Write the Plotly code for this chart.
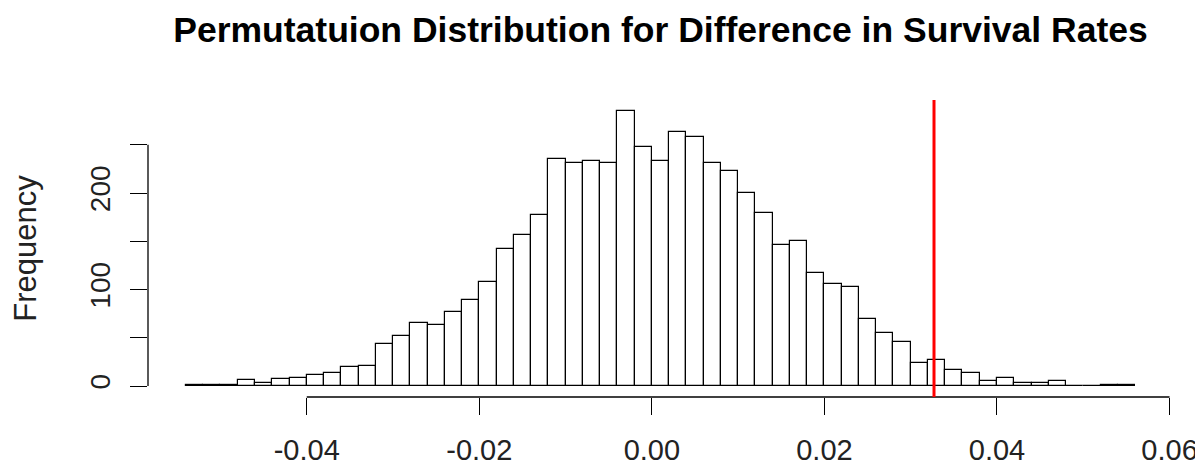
import plotly.graph_objects as go

# Histogram data (bin left edges, bin width 0.002) and counts
bin_left = [-0.054, -0.052, -0.050, -0.048, -0.046, -0.044, -0.042, -0.040, -0.038, -0.036,
            -0.034, -0.032, -0.030, -0.028, -0.026, -0.024, -0.022, -0.020, -0.018, -0.016,
            -0.014, -0.012, -0.010, -0.008, -0.006, -0.004, -0.002, 0.000, 0.002, 0.004,
            0.006, 0.008, 0.010, 0.012, 0.014, 0.016, 0.018, 0.020, 0.022, 0.024,
            0.026, 0.028, 0.030, 0.032, 0.034, 0.036, 0.038, 0.040, 0.042, 0.044,
            0.046, 0.048, 0.050, 0.052, 0.054]
counts = [1, 1, 1, 6, 3, 7, 8, 11, 13, 20,
          21, 44, 52, 65, 63, 77, 89, 108, 142, 156,
          177, 235, 231, 233, 231, 285, 248, 233, 263, 258,
          231, 223, 200, 179, 146, 150, 117, 106, 103, 69,
          55, 46, 24, 27, 17, 13, 5, 8, 3, 3,
          5, 0, 0, 1, 1]
bin_width = 0.002
observed_diff = 0.0327

x_tick_vals = [-0.04, -0.02, 0.00, 0.02, 0.04, 0.06]
x_tick_text = ["-0.04", "-0.02", "0.00", "0.02", "0.04", "0.06"]
y_tick_vals = [0, 50, 100, 150, 200, 250]
y_tick_text = ["0", "", "100", "", "200", ""]

title_text = "Permutatuion Distribution for Difference in Survival Rates"
y_title = "Frequency"

FONT = "Liberation Sans, Arial, sans-serif"

# The page body has an 8px default margin; size the figure so it fits the 1203x465 window.
W, H = 1195, 457

centers = [b + bin_width / 2 for b in bin_left]

fig = go.Figure()
fig.add_trace(go.Bar(
    x=centers, y=counts, width=[bin_width] * len(centers),
    marker=dict(color="white", line=dict(color="black", width=1.2)),
    hoverinfo="x+y", showlegend=False,
))

# R-style padded ranges (4% extension)
xmin, xmax = bin_left[0], bin_left[-1] + bin_width
xpad = (xmax - xmin) * 0.04
ymax = max(counts)
ypad = ymax * 0.04

shapes = [
    # y axis line (spans first to last tick)
    dict(type="line", xref="paper", yref="y", x0=0, x1=0,
         y0=y_tick_vals[0], y1=y_tick_vals[-1], line=dict(color="black", width=1.3)),
    # x axis line
    dict(type="line", xref="x", yref="paper", x0=x_tick_vals[0], x1=x_tick_vals[-1],
         y0=0, y1=0, line=dict(color="black", width=1.3)),
    # observed difference
    dict(type="line", xref="x", yref="paper", x0=observed_diff, x1=observed_diff,
         y0=0, y1=1, line=dict(color="#FF0000", width=3)),
]

fig.update_layout(
    width=W, height=H,
    margin=dict(l=140, r=30, t=92, b=68, autoexpand=False),
    paper_bgcolor="white", plot_bgcolor="white",
    font=dict(family=FONT, color="black"),
    bargap=0,
    shapes=shapes,
    title=dict(text="<b>" + title_text + "</b>", x=0.5, xref="paper", xanchor="center",
               y=1 - 22 / H, yref="container", yanchor="middle",
               font=dict(size=35.5, family=FONT, color="black"), automargin=False),
    xaxis=dict(range=[xmin - xpad, xmax + xpad], showgrid=False, zeroline=False,
               showline=False, tickmode="array", tickvals=x_tick_vals, ticktext=x_tick_text,
               ticks="outside", ticklen=17, tickwidth=1.3, tickcolor="black",
               tickfont=dict(size=29, family=FONT, color="#222"), ticklabelstandoff=10,
               automargin=False),
    yaxis=dict(range=[-ypad, ymax + ypad], showgrid=False, zeroline=False,
               showline=False, tickmode="array", tickvals=y_tick_vals, ticktext=y_tick_text,
               ticks="outside", ticklen=17, tickwidth=1.3, tickcolor="black", tickangle=-90,
               tickfont=dict(size=28, family=FONT, color="#222"), ticklabelstandoff=9,
               automargin=False,
               title=dict(text=y_title, font=dict(size=31, family=FONT, color="#222"),
                          standoff=46)),
)

fig.write_html("out.html")
